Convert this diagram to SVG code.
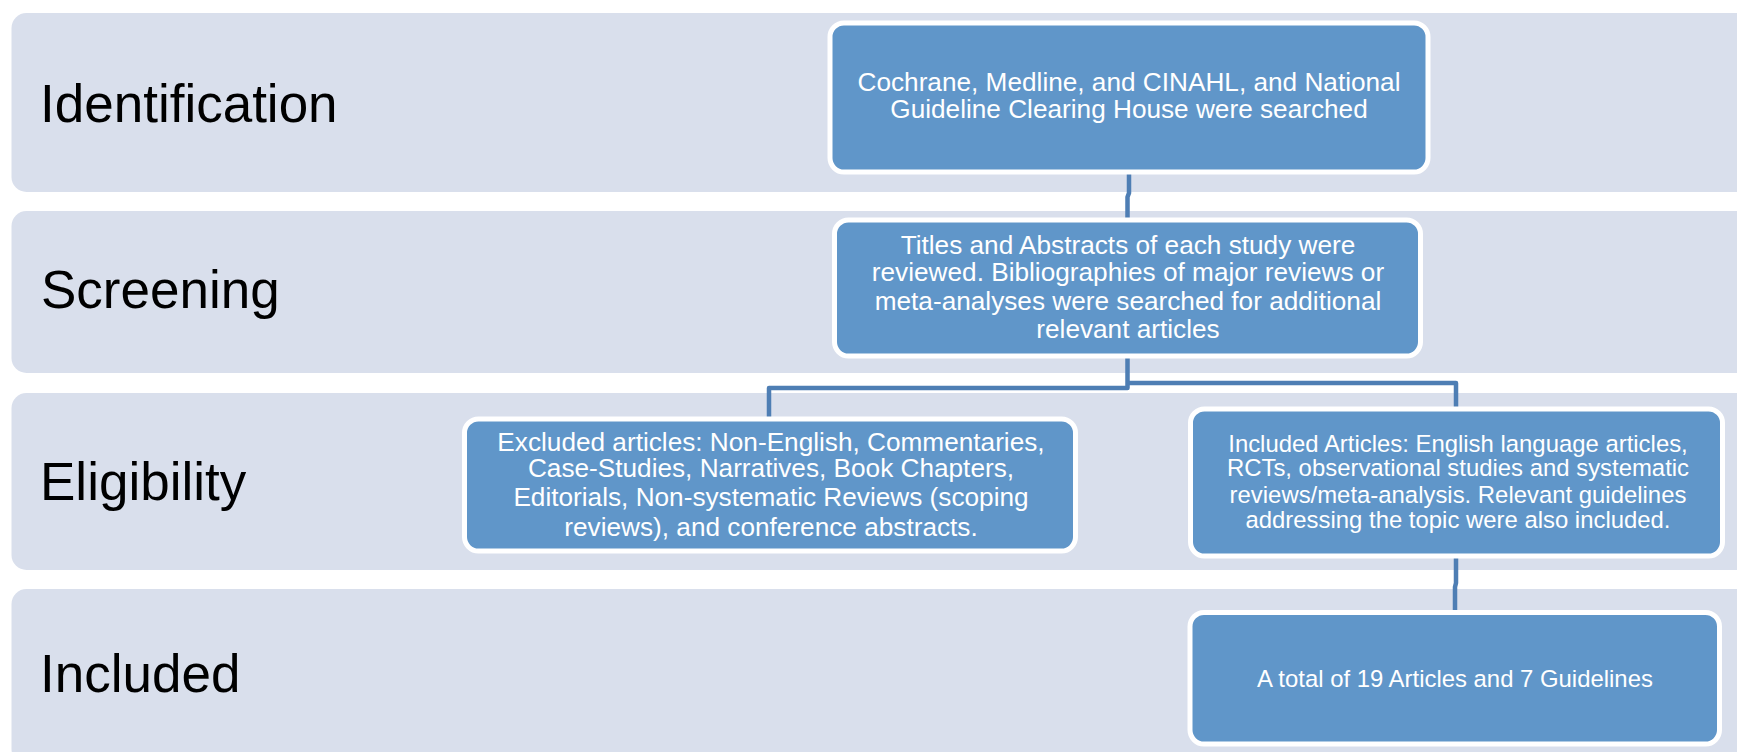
<svg xmlns="http://www.w3.org/2000/svg" width="1737" height="752" viewBox="0 0 1737 752">
<style>
.band{fill:#D9DFEC}
.lbl{font-family:"Liberation Sans",Arial,sans-serif;font-size:53px;fill:#000}
.box{fill:#6096C9;stroke:#FFFFFF;stroke-width:5}
.t{font-family:"Liberation Sans",Arial,sans-serif;fill:#FFFFFF;text-anchor:middle}
.t26{font-size:26.2px}
.t24{font-size:23.9px}
.con{fill:none;stroke:#4E7EB4;stroke-width:4.5;stroke-linejoin:round}
</style>
<rect width="1737" height="752" fill="#FFFFFF"/>
<g id="bands">
<g id="band-identification"><rect class="band" x="11.5" y="13" width="1770" height="179" rx="15"/><text class="lbl" x="40" y="122">Identification</text></g>
<g id="band-screening"><rect class="band" x="11.5" y="211" width="1770" height="162" rx="15"/><text class="lbl" x="41" y="308">Screening</text></g>
<g id="band-eligibility"><rect class="band" x="11.5" y="393" width="1770" height="177" rx="15"/><text class="lbl" x="40" y="500">Eligibility</text></g>
<g id="band-included"><rect class="band" x="11.5" y="589" width="1770" height="175" rx="15"/><text class="lbl" x="40" y="692">Included</text></g>
</g>
<g id="connectors">
<path class="con" d="M1129,172 V193 L1127.5,197 V220"/>
<path class="con" d="M1127.5,356 V388 H769 V419"/>
<path class="con" d="M1127.5,383 H1456 V409"/>
<path class="con" d="M1456,556 V583 L1455,587 V613"/>
</g>
<g id="node-search">
<rect class="box" x="830" y="23" width="598" height="149" rx="14"/>
<text class="t t26" x="1129" y="91">Cochrane, Medline, and CINAHL, and National</text>
<text class="t t26" x="1129" y="117.5">Guideline Clearing House were searched</text>
</g>
<g id="node-screen">
<rect class="box" x="834.5" y="220" width="586" height="136" rx="14"/>
<text class="t t26" x="1128" y="254">Titles and Abstracts of each study were</text>
<text class="t t26" x="1128" y="280.5">reviewed. Bibliographies of major reviews or</text>
<text class="t t26" x="1128" y="309.5">meta-analyses were searched for additional</text>
<text class="t t26" x="1128" y="337.5">relevant articles</text>
</g>
<g id="node-excluded">
<rect class="box" x="464.5" y="419" width="611" height="132" rx="14"/>
<text class="t t26" x="771" y="450.5">Excluded articles: Non-English, Commentaries,</text>
<text class="t t26" x="771" y="477.3">Case-Studies, Narratives, Book Chapters,</text>
<text class="t t26" x="771" y="506.3">Editorials, Non-systematic Reviews (scoping</text>
<text class="t t26" x="771" y="535.5">reviews), and conference abstracts.</text>
</g>
<g id="node-included">
<rect class="box" x="1190.5" y="409" width="532" height="147" rx="14"/>
<text class="t t24" x="1458" y="451.7">Included Articles: English language articles,</text>
<text class="t t24" x="1458" y="476">RCTs, observational studies and systematic</text>
<text class="t t24" x="1458" y="502.7">reviews/meta-analysis. Relevant guidelines</text>
<text class="t t24" x="1458" y="528.3">addressing the topic were also included.</text>
</g>
<g id="node-total">
<rect class="box" x="1190" y="612.5" width="529.5" height="131.5" rx="14"/>
<text class="t t24" x="1455" y="687.3">A total of 19 Articles and 7 Guidelines</text>
</g>
</svg>
